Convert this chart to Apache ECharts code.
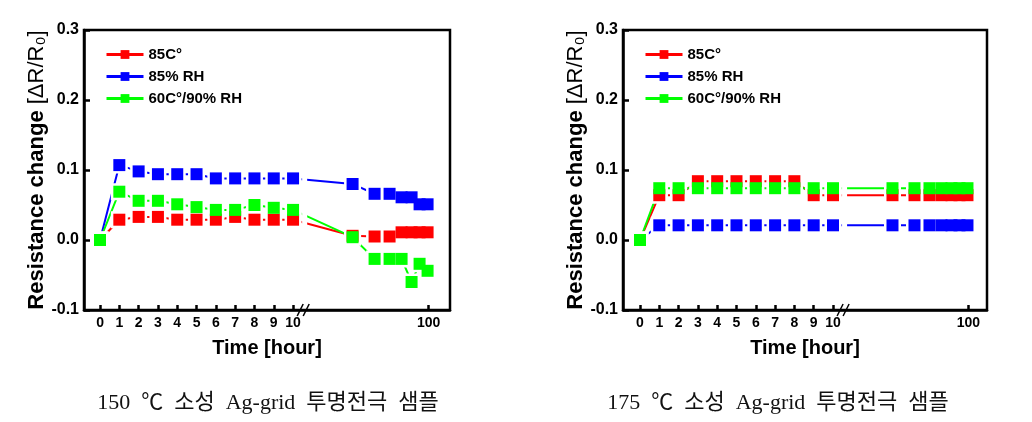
<!DOCTYPE html>
<html><head><meta charset="utf-8">
<script src="https://cdn.jsdelivr.net/npm/echarts@6/dist/echarts.min.js"></script>
<style>html,body{margin:0;padding:0;background:#fff}#c{width:1032px;height:422px}</style>
</head><body><div id="c"></div>
<script>
// ---- data ----
const hours = [0,1,2,3,4,5,6,7,8,9,10,24,46,61,73,83,91,99];
const xTickHours = [0,1,2,3,4,5,6,7,8,9,10,100];
const xTickLabels = ['0','1','2','3','4','5','6','7','8','9','10','100'];
const seriesNames = ['85C°','85% RH','60C°/90% RH'];
const left85C     = [0,0.029,0.033,0.033,0.029,0.029,0.029,0.033,0.029,0.029,0.029,0.006,0.005,0.005,0.011,0.011,0.011,0.011];
const left85RH    = [0,0.107,0.098,0.094,0.094,0.094,0.088,0.088,0.088,0.088,0.088,0.080,0.066,0.066,0.061,0.061,0.051,0.051];
const left60C90RH = [0,0.069,0.056,0.056,0.051,0.047,0.043,0.043,0.050,0.046,0.043,0.004,-0.027,-0.027,-0.027,-0.060,-0.034,-0.044];
const right85C     = [0,0.064,0.064,0.084,0.084,0.084,0.084,0.084,0.084,0.064,0.064,0.064,0.064,0.064,0.064,0.064,0.064,0.064];
const right85RH    = [0,0.021,0.021,0.021,0.021,0.021,0.021,0.021,0.021,0.021,0.021,0.021,0.021,0.021,0.021,0.021,0.021,0.021];
const right60C90RH = [0,0.074,0.074,0.074,0.074,0.074,0.074,0.074,0.074,0.074,0.074,0.074,0.074,0.074,0.074,0.074,0.074,0.074];
const yTitle = 'Resistance change ';
const yUnit = '[ΔR/R₀]';
const xTitle = 'Time [hour]';
const captions = ['150 ℃ 소성 Ag-grid 투명전극 샘플', '175 ℃ 소성 Ag-grid 투명전극 샘플'];

// ---- broken-axis scale: linear 0..10 h, compressed linear after the break ----
const POS_100 = 17.02, POST_SCALE = 0.0518;
function axisPos(h){ return h <= 10 ? h : POS_100 + (h - 100) * POST_SCALE; }

const colors = ['#ff0000', '#0000ff', '#00ff00'];
const FONT = "'Liberation Sans', Arial, sans-serif";
const grids = [
  {left:84, top:30, width:366, height:280, xmin:-0.83, xmax:18.13},
  {left:623, top:30, width:364, height:280, xmin:-0.88, xmax:17.98}
];
const chartData = [[left85C,left85RH,left60C90RH],[right85C,right85RH,right60C90RH]];

const chart = echarts.init(document.getElementById('c'), null, {renderer:'canvas'});
const tickPos = xTickHours.map(axisPos);
const option = {
  animation:false,
  backgroundColor:'#fff',
  grid: grids.map(g => ({left:g.left, top:g.top, width:g.width, height:g.height, show:true, borderColor:'#000', borderWidth:2.5})),
  xAxis: grids.map((g,i) => ({
    gridIndex:i, type:'value', min:g.xmin, max:g.xmax,
    axisLine:{show:true, onZero:false, lineStyle:{color:'#000', width:2.5}},
    axisTick:{show:true, inside:true, length:5, customValues:tickPos, lineStyle:{color:'#000', width:2.5}},
    axisLabel:{customValues:tickPos, color:'#000', fontSize:14, fontWeight:'bold', fontFamily:FONT, margin:6,
      formatter: v => { const k = tickPos.findIndex(p => Math.abs(p - v) < 1e-6); return k >= 0 ? xTickLabels[k] : ''; }},
    splitLine:{show:false},
    name:xTitle, nameLocation:'middle', nameGap:28,
    nameTextStyle:{color:'#000', fontSize:20, fontWeight:'bold', fontFamily:FONT}
  })),
  yAxis: grids.map((g,i) => ({
    gridIndex:i, type:'value', min:-0.1, max:0.3, interval:0.1,
    axisLine:{show:true, onZero:false, lineStyle:{color:'#000', width:2.5}},
    axisTick:{show:true, inside:true, length:6, lineStyle:{color:'#000', width:2.5}},
    axisLabel:{color:'#000', fontSize:16, fontWeight:'bold', fontFamily:FONT, margin:5,
      formatter: v => (Math.abs(v) < 1e-9 ? 0 : v).toFixed(1)},
    splitLine:{show:false},
    name:'{b|' + yTitle + '}{n|' + yUnit + '}', nameLocation:'middle', nameGap:35,
    nameTextStyle:{rich:{
      b:{fontSize:22, fontWeight:'bold', fontFamily:FONT, color:'#000'},
      n:{fontSize:22, fontWeight:'normal', fontFamily:FONT, color:'#000'}
    }}
  })),
  legend: grids.map((g,i) => ({
    data:seriesNames, orient:'vertical', left:g.left + 16, top:42,
    itemWidth:37, itemHeight:11, itemGap:7,
    itemStyle:{borderWidth:0}, lineStyle:{width:3},
    textStyle:{color:'#000', fontSize:15, fontWeight:'bold', fontFamily:FONT},
    selectedMode:false
  })),
  series: []
};
chartData.forEach((sets, i) => {
  sets.forEach((vals, s) => {
    option.series.push({
      type:'line', name:seriesNames[s], xAxisIndex:i, yAxisIndex:i,
      data: hours.map((h,k) => [axisPos(h), vals[k]]),
      symbol:'rect', symbolSize:12, showAllSymbol:true,
      lineStyle:{color:colors[s], width:2},
      itemStyle:{color:colors[s], borderColor:'#fff', borderWidth:5},
      emphasis:{disabled:true}, z:2
    });
  });
  sets.forEach((vals, s) => {
    option.series.push({
      type:'scatter', xAxisIndex:i, yAxisIndex:i,
      data: hours.map((h,k) => [axisPos(h), vals[k]]),
      symbol:'rect', symbolSize:12,
      itemStyle:{color:colors[s], opacity:1},
      emphasis:{disabled:true}, silent:true, z:3
    });
  });
});
chart.setOption(option);

// ---- decorations: break gap, break marks, captions ----
const graphics = [];
grids.forEach((g,i) => {
  const a = chart.convertToPixel({xAxisIndex:i, yAxisIndex:i}, [10.47, 0.3]);
  const b = chart.convertToPixel({xAxisIndex:i, yAxisIndex:i}, [10.73, -0.1]);
  graphics.push({type:'rect', z:100, shape:{x:a[0], y:a[1]+2, width:b[0]-a[0], height:b[1]-a[1]-4}, style:{fill:'#fff'}});
  const c = chart.convertToPixel({xAxisIndex:i, yAxisIndex:i}, [10.55, -0.1]);
  graphics.push({type:'line', z:101, shape:{x1:c[0]-6.5, y1:c[1]+6, x2:c[0]-0.5, y2:c[1]-6}, style:{stroke:'#000', lineWidth:1.5}});
  graphics.push({type:'line', z:101, shape:{x1:c[0]-0.5, y1:c[1]+6, x2:c[0]+5.5, y2:c[1]-6}, style:{stroke:'#000', lineWidth:1.5}});
});
const capX = [268, 778];
captions.forEach((t,i) => {
  graphics.push({type:'text', z:101, x:capX[i], y:403,
    style:{text:t.split(' ').join('\u2002'), fill:'#111', font:"22px 'Liberation Serif', 'Noto Sans CJK KR', serif", textAlign:'center', textVerticalAlign:'middle'}});
});
chart.setOption({graphic:graphics});
</script>
</body></html>
